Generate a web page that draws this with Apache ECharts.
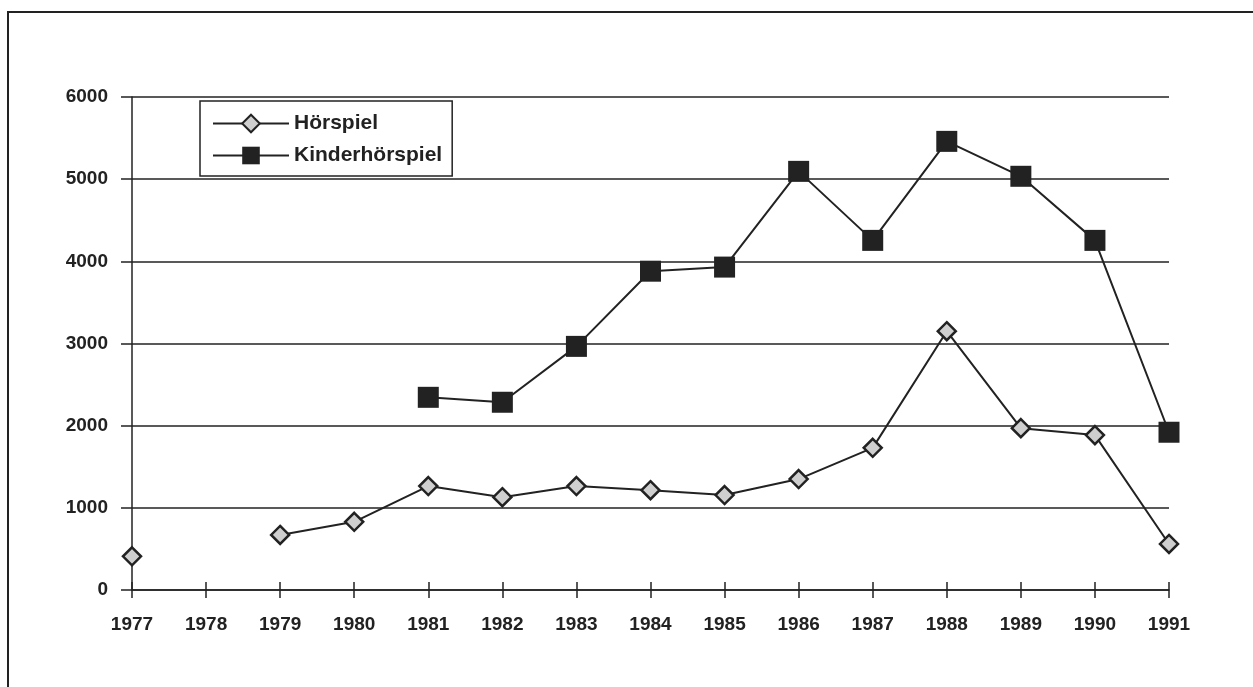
<!DOCTYPE html>
<html><head><meta charset="utf-8">
<script src="https://cdn.jsdelivr.net/npm/echarts@6/dist/echarts.min.js"></script>
<style>html,body{margin:0;padding:0;background:#fff}#c{width:1253px;height:687px}</style>
</head><body><div id="c"></div>
<script>
const years = ['1977','1978','1979','1980','1981','1982','1983','1984','1985','1986','1987','1988','1989','1990','1991'];
const hoerspiel = [410, null, 670, 830, 1265, 1130, 1265, 1215, 1155, 1350, 1730, 3150, 1970, 1885, 560];
const kinderhoerspiel = [null, null, null, null, 2345, 2285, 2965, 3880, 3930, 5095, 4255, 5460, 5035, 4255, 1920];
const yTicks = [0, 1000, 2000, 3000, 4000, 5000, 6000];

const chart = echarts.init(document.getElementById('c'));
const font = 'Liberation Sans, Arial, sans-serif';
chart.setOption({
  animation: false,
  backgroundColor: '#fff',
  graphic: [{type:'rect', shape:{x:8, y:12, width:1300, height:800}, style:{fill:'none', stroke:'#222', lineWidth:2}, z:-1}],
  grid: {left:132, right:84, top:97, bottom:97},
  legend: {
    orient:'vertical', left:200, top:101, itemWidth:76, itemHeight:22, itemGap:11,
    padding:[12,10,10,12], borderColor:'#222', borderWidth:1.5, backgroundColor:'#fff',
    textStyle:{fontFamily:font, fontSize:21, fontWeight:'bold', color:'#222'},
    data:['Hörspiel','Kinderhörspiel']
  },
  xAxis: [{
    type:'category', data:years, boundaryGap:false,
    axisLine:{lineStyle:{color:'#222', width:1.5}},
    axisTick:{show:true, alignWithLabel:true, length:8, inside:false, lineStyle:{color:'#222', width:1.5}},
    axisLabel:{fontFamily:font, fontSize:19, fontWeight:'bold', color:'#222', margin:25},
    splitLine:{show:false}
  }, {
    type:'category', data:years, boundaryGap:false, position:'bottom',
    axisLine:{show:false},
    axisTick:{show:true, alignWithLabel:true, length:8, inside:true, lineStyle:{color:'#222', width:1.5}},
    axisLabel:{show:false},
    splitLine:{show:false}
  }],
  yAxis: {
    type:'value', min:0, max:6000, interval:1000,
    axisLine:{show:true, lineStyle:{color:'#222', width:1.5}},
    axisTick:{show:true, length:11, lineStyle:{color:'#222', width:1.5}},
    axisLabel:{fontFamily:font, fontSize:19, fontWeight:'bold', color:'#222', margin:24,
      formatter: v => yTicks.includes(v) ? String(v) : ''},
    splitLine:{show:true, lineStyle:{color:'#222', width:1.5}}
  },
  series: [
    {name:'Hörspiel', type:'line', data:hoerspiel, connectNulls:false, xAxisIndex:0,
     symbol:'diamond', symbolSize:18, showAllSymbol:true,
     lineStyle:{color:'#222', width:2},
     itemStyle:{color:'#cfcfcf', borderColor:'#222', borderWidth:2.5}, z:3},
    {name:'Kinderhörspiel', type:'line', data:kinderhoerspiel, connectNulls:false, xAxisIndex:0,
     symbol:'rect', symbolSize:21, showAllSymbol:true,
     lineStyle:{color:'#222', width:2},
     itemStyle:{color:'#222', borderColor:'#222', borderWidth:0}, z:4}
  ]
});
</script></body></html>
